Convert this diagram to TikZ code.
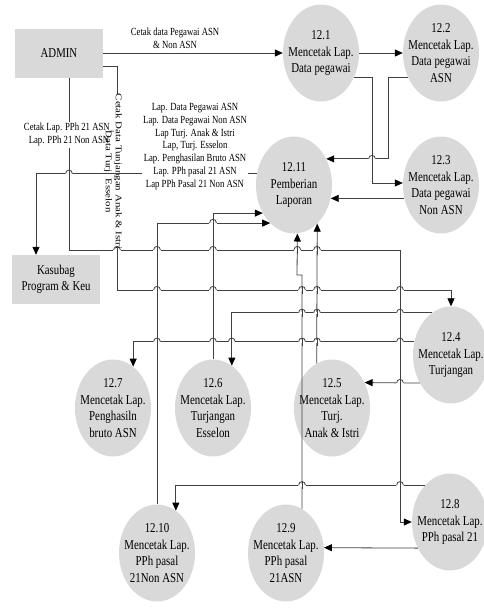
\documentclass[tikz,border=0pt]{standalone}
\usepackage{fontspec}
\setmainfont{Liberation Serif}[FakeStretch=0.8]
\newfontfamily\sidewaysfont{Liberation Serif}[FakeStretch=1.25]
\usetikzlibrary{arrows.meta,shapes.geometric}
\definecolor{shapegray}{RGB}{217,217,217}
\definecolor{wire}{RGB}{64,64,64}

% small bridge where a horizontal flow passes over a vertical one
\newcommand\hopover[2]{%
  \fill[white] (#1-3.6,#2-1.3) rectangle (#1+3.6,#2+1.3);
  \draw[conn] (#1,#2-3.8) -- (#1,#2+3.8);
  \draw[conn] (#1-3.4,#2) .. controls (#1-3.4,#2-4.8) and (#1+3.4,#2-4.8) .. (#1+3.4,#2);
}

\begin{document}
\begin{tikzpicture}[x=1pt,y=-1pt,
  proc/.style={ellipse, fill=shapegray, minimum width=76pt, minimum height=97pt, inner sep=0pt},
  proctext/.style={align=center, font=\fontsize{13.6}{16.5}\selectfont, inner sep=0pt},
  entity/.style={rectangle, fill=shapegray, minimum width=88pt, minimum height=49pt,
    align=center, font=\fontsize{13.5}{16}\selectfont},
  conn/.style={draw=wire, line width=0.8pt},
  flow/.style={conn, -{Triangle[length=8pt,width=7pt,color=black]}},
  flowlabel/.style={align=center, font=\fontsize{10.9}{12.9}\selectfont, inner sep=1pt},
  sidelabel/.style={align=center, rotate=-90, inner sep=0pt,
    font=\sidewaysfont\fontsize{8.72}{10}\selectfont},
]
\useasboundingbox (0,0) rectangle (484,613);

% external entities
\node[entity] (admin) at (59,53) {ADMIN};
\node[entity] (kasubag) at (56,279.5) {Kasubag\\Program \& Keu};

% processes
\node[proc] (p121) at (321,53) {};
\node[proctext] (t121) at (p121) {12.1\\Mencetak Lap.\\Data pegawai};
\node[proc] (p122) at (441,53) {};
\node[proctext] (t122) at (p122) {12.2\\Mencetak Lap.\\Data pegawai\\ASN};
\node[proc] (p1211) at (294,185) {};
\node[proctext] (t1211) at (p1211) {12.11\\Pemberian\\Laporan};
\node[proc] (p123) at (441,185) {};
\node[proctext] (t123) at (p123) {12.3\\Mencetak Lap.\\Data pegawai\\Non ASN};
\node[proc] (p124) at (451,355) {};
\node[proctext] (t124) at (p124) {12.4\\Mencetak Lap.\\Turjangan};
\node[proc] (p125) at (332,408) {};
\node[proctext] (t125) at (p125) {12.5\\Mencetak Lap.\\Turj.\\Anak \& Istri};
\node[proc] (p126) at (213,408) {};
\node[proctext] (t126) at (p126) {12.6\\Mencetak Lap.\\Turjangan\\Esselon};
\node[proc] (p127) at (113,408) {};
\node[proctext] (t127) at (p127) {12.7\\Mencetak Lap.\\Penghasiln\\bruto ASN};
\node[proc] (p128) at (450,522) {};
\node[proctext] (t128) at (p128) {12.8\\Mencetak Lap.\\PPh pasal 21};
\node[proc] (p129) at (286,553) {};
\node[proctext] (t129) at (p129) {12.9\\Mencetak Lap.\\PPh pasal\\21ASN};
\node[proc] (p1210) at (157,553) {};
\node[proctext] (t1210) at (p1210) {12.10\\Mencetak Lap.\\PPh pasal\\21Non ASN};

% bends and label gaps
\coordinate (gapAtop) at (69,122);
\coordinate (gapAbot) at (69,148);
\coordinate (pphturn) at (400,250);
\coordinate (gapBtop) at (117,94);
\coordinate (gapBbot) at (117,252);
\coordinate (tunjturn) at (117,290);
\coordinate (jog) at (297,275);

% employee data reports
\draw[flow] (admin.east) -- (p121.west)
  node[flowlabel, above=3pt, pos=0.4] (l1) {Cetak data Pegawai ASN\\\& Non ASN};
\draw[flow] (p121.east) -- (p122.west);
\draw[flow] (p121.-36) -- ++(18,0) |- (p123.177);
\draw[flow] (p122.216) -- ++(-19,0) |- (p1211.39);
\draw[flow] (p123.200) -- (p1211.-20);

% tax reports from ADMIN
\draw[conn] ([xshift=10pt]admin.south) -- (gapAtop);
\node[flowlabel] (l2) at (69,134.5) {Cetak Lap. PPh 21 ASN\_\\Lap. PPh 21 Non ASN};
\draw[flow] (gapAbot) |- (pphturn) |- (p128.west);

% allowance reports from ADMIN
\draw[conn] ([yshift=-13pt]admin.east) -| (gapBtop);
\node[sidelabel] (l3) at (113,171.5) {Cetak Data Tunjangan Anak \& Istri\\Data Turj. Esselon};
\draw[flow] (gapBbot) -- (tunjturn) -| (p124.north);

% final reports to Kasubag
\draw[flow] (p1211.163) -| ([xshift=-20pt]kasubag.north);
\node[flowlabel, fill=white] (l4) at (195,146.5) {Lap. Data Pegawai ASN\\Lap. Data Pegawai Non ASN\\Lap Turj. Anak \& Istri\\Lap, Turj. Esselon\\Lap. Penghasilan Bruto ASN\\Lap. PPh pasal 21 ASN\\Lap PPh Pasal 21 Non ASN};

% allowance process fan-out
\draw[flow] (p124.114) -| (p126.66);
\draw[flow] (p124.160) -| (p127.64);
\draw[flow] (p124.222) -- (p125.38);

% results back to 12.11
\draw[flow] (p125.109) -- (p1211.-59);
\draw[flow] (p129.70) |- (jog) -- (p1211.-86);
\draw[flow] (p126.north) |- (p1211.222);
\draw[flow] (p1210.north) |- (p1211.238);

% tax process fan-out
\draw[flow] (p128.124) -| (p1210.66);
\draw[flow] (p128.219) -- (p129.8);

% line bridges
\hopover{372}{159}
\hopover{69}{173.7}
\hopover{213}{222.9}
\hopover{117}{250}\hopover{157}{250}\hopover{213}{250}\hopover{297.3}{250}\hopover{317}{250}
\hopover{157}{290}\hopover{213}{290}\hopover{302}{290}\hopover{317}{290}\hopover{400}{290}
\hopover{302}{312.8}\hopover{317}{312.8}\hopover{400}{312.8}
\hopover{157}{341.7}\hopover{213}{341.7}\hopover{231.8}{341.7}\hopover{302}{341.7}\hopover{317}{341.7}\hopover{400}{341.7}
\hopover{400}{383}
\hopover{302}{485.2}\hopover{400}{485.2}
\end{tikzpicture}
\end{document}
